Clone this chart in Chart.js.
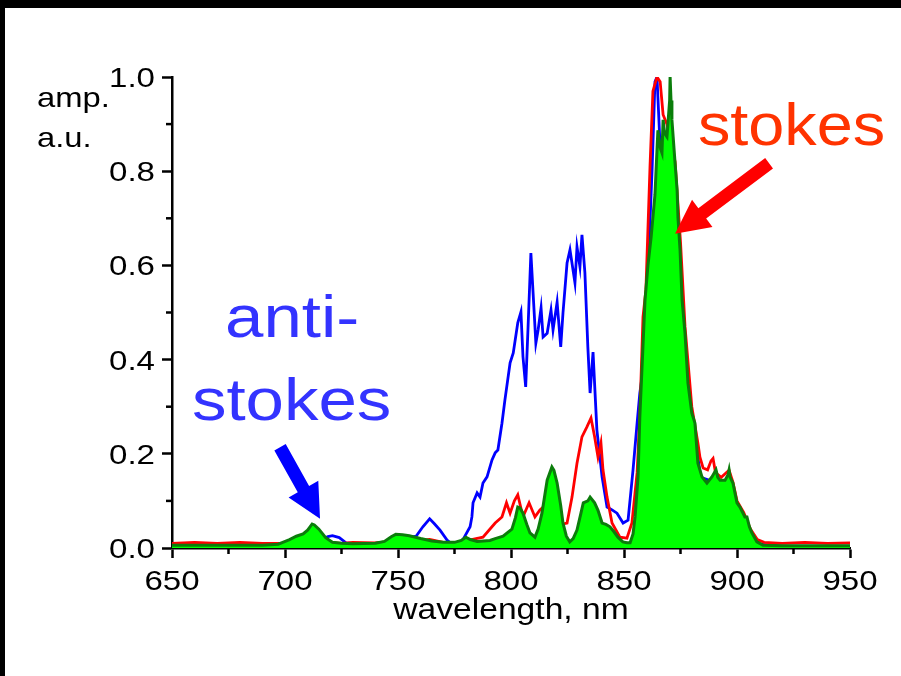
<!DOCTYPE html>
<html><head><meta charset="utf-8">
<script src="https://cdn.jsdelivr.net/npm/chart.js@4.4.1/dist/chart.umd.min.js"></script>
<style>
html,body{margin:0;padding:0;background:#000;width:901px;height:676px;overflow:hidden}
#wrap{position:absolute;left:5px;top:8px;width:896px;height:668px;background:#fff}
</style></head><body>
<div id="wrap"><canvas id="c"></canvas></div>
<script>
// ---- data (wavelength nm, amplitude a.u.) ----
const blueWl = [650,670,690,700,705,710,714,717,719,721,724,727,735,745,750,755,758,761,764,766,768.6,771.7,774,777,779,
 781.9,782.7,783.2,785,786.3,787.6,789.4,791.6,793,794.2,796,797.3,799.6,801,803,804.4,805.3,806.5,807.5,808.8,809.7,811,812,813.3,814.2,816,817.7,818.6,820.4,822,823,824.8,826.1,828.3,829.2,830.5,831.4,832.7,834,835,836.3,838,840.3,842.5,844.7,846.9,849.6,851.8,854,855.8,857,858,860,861,862.4,863.7,864.6,865,866,868,870,873,876,880,884,890,896,900,905,910,920,950];
const blueAmp = [0.004,0.004,0.004,0.006,0.01,0.02,0.025,0.02,0.024,0.026,0.022,0.011,0.008,0.012,0.02,0.022,0.025,0.045,0.062,0.052,0.038,0.017,0.008,0.008,0.02,
 0.045,0.066,0.096,0.117,0.108,0.138,0.151,0.187,0.202,0.208,0.265,0.314,0.393,0.414,0.478,0.501,0.406,0.342,0.463,0.626,0.548,0.435,0.463,0.510,0.448,0.456,0.505,0.463,0.522,0.427,0.499,0.605,0.633,0.563,0.639,0.597,0.665,0.584,0.427,0.329,0.416,0.251,0.151,0.087,0.081,0.074,0.053,0.059,0.166,0.265,0.329,0.363,0.512,0.633,0.80,0.99,1.0,0.957,0.85,0.8,0.8,0.65,0.5,0.28,0.15,0.14,0.14,0.09,0.04,0.008,0.004,0.004];

const redWl = [650,660,670,680,690,700,710,720,725,730,740,750,760,764,768,772,776,780,782,787.6,793,796,798,799.6,801.5,803,805.3,808,810.6,812.8,815,818,822,824.8,827,829.2,831.4,833.6,835.4,837,838.5,839.8,840.7,842.5,844.7,848.2,851.3,853.5,855.8,857,858.4,859.7,861.5,862.8,864.6,866,867.3,869,872.6,875,877,880,882.7,883.6,885,887,888.5,889.4,890.5,893,896.5,898.2,900,903,906,909,912,920,930,940,950];
const redAmp = [0.01,0.012,0.01,0.012,0.01,0.01,0.01,0.012,0.01,0.012,0.011,0.015,0.016,0.018,0.014,0.01,0.012,0.015,0.017,0.023,0.053,0.066,0.096,0.074,0.1,0.113,0.066,0.096,0.066,0.081,0.09,0.1,0.05,0.053,0.108,0.18,0.236,0.257,0.276,0.236,0.193,0.223,0.166,0.108,0.053,0.023,0.021,0.053,0.16,0.28,0.49,0.548,0.809,0.97,1.0,0.99,0.92,0.90,0.82,0.65,0.47,0.3,0.223,0.193,0.17,0.166,0.185,0.19,0.16,0.15,0.165,0.14,0.1,0.075,0.04,0.018,0.012,0.01,0.012,0.01,0.011];

const greenWl = [650,670,690,697,699,702,705,708,710,712,713,715,718,721,725,730,740,744,747,749,752,755,760,765,770,775,778,780,782,785,790.7,793,796.5,800.4,802,803,804,805.3,807,808.4,810.6,812,813.7,816,818.1,819,820.4,822,823,824.5,826,827.5,829.2,831,832,834,835,837,838.5,840.3,842,843.8,845.5,847.3,849.5,851.3,852.7,854,854.9,856.2,857,859.3,860.6,862,863.7,865,866,866.8,867.3,868,869,870.2,870.4,870.8,871.2,872.6,873.5,873.9,874.8,875.7,877,878.3,880,881.4,882.7,884.5,886.7,888.9,890.7,891.5,892.5,894.7,896,896.5,897,898.2,900,901.3,903.5,904.4,905.5,906.6,908.8,911.5,920,930,950];
const greenAmp = [0.006,0.006,0.006,0.008,0.012,0.018,0.025,0.03,0.038,0.051,0.049,0.04,0.022,0.012,0.01,0.009,0.01,0.014,0.024,0.029,0.028,0.026,0.02,0.015,0.012,0.012,0.016,0.023,0.018,0.014,0.016,0.02,0.025,0.04,0.065,0.087,0.085,0.074,0.05,0.032,0.023,0.04,0.074,0.144,0.172,0.165,0.138,0.09,0.053,0.025,0.013,0.02,0.038,0.075,0.096,0.1,0.108,0.096,0.08,0.053,0.05,0.045,0.035,0.023,0.013,0.011,0.011,0.03,0.066,0.15,0.278,0.527,0.60,0.66,0.75,0.887,0.85,0.839,0.909,0.88,0.873,0.95,1.0,0.95,0.909,0.817,0.76,0.70,0.633,0.527,0.456,0.35,0.287,0.265,0.18,0.151,0.138,0.151,0.166,0.15,0.144,0.144,0.155,0.166,0.15,0.138,0.096,0.087,0.066,0.066,0.045,0.032,0.013,0.006,0.005,0.005,0.005];

const xTickValues = [650,700,750,800,850,900,950];
const yTickValues = [0.0,0.2,0.4,0.6,0.8,1.0];
const xTickLabels = ['650','700','750','800','850','900','950'];
const yTickLabels = ['0.0','0.2','0.4','0.6','0.8','1.0'];
const xMinorTicks = [675,725,775,825,875,925];
const yMinorTicks = [0.1,0.3,0.5,0.7,0.9];
const xTitle = 'wavelength, nm';
const yTitleLines = ['amp.','a.u.'];

// annotations anchored in data units
const labels = [
  {text:'anti-',  wl:673.5, amp:0.448, color:'#3333ff', size:60, sx:1.15},
  {text:'stokes', wl:658.8, amp:0.272, color:'#3333ff', size:60, sx:1.15},
  {text:'stokes', wl:882.7, amp:0.856, color:'#ff3300', size:60, sx:1.08}
];
const arrows = [
  {fromWl:697.8, fromAmp:0.214, toWl:715.5, toAmp:0.062, color:'#0000ff'},
  {fromWl:914.2, fromAmp:0.817, toWl:872.6, toAmp:0.667, color:'#ff0000'}
];

const pts = (xs, ys) => xs.map((x,i)=>({x, y: ys[i]}));
const FONT = "'Liberation Sans', Arial, sans-serif";

function stretchText(ctx, text, x, y, sx, align){
  const w = ctx.measureText(text).width * sx;
  let x0 = x;
  if (align === 'center') x0 = x - w/2; else if (align === 'right') x0 = x - w;
  ctx.save(); ctx.translate(x0, y); ctx.scale(sx,1); ctx.textAlign = 'left'; ctx.fillText(text,0,0); ctx.restore();
}

const decor = {
  id:'decor',
  afterDraw(chart){
    const ctx = chart.ctx, xs = chart.scales.x, ys = chart.scales.y;
    const ca = chart.chartArea;
    ctx.save();
    // minor ticks
    ctx.strokeStyle = '#000'; ctx.lineWidth = 2.5;
    xMinorTicks.forEach(v=>{ const px = xs.getPixelForValue(v); ctx.beginPath(); ctx.moveTo(px, ca.bottom); ctx.lineTo(px, ca.bottom+6); ctx.stroke(); });
    yMinorTicks.forEach(v=>{ const py = ys.getPixelForValue(v); ctx.beginPath(); ctx.moveTo(ca.left, py); ctx.lineTo(ca.left-6, py); ctx.stroke(); });
    // tick labels
    ctx.fillStyle = '#000'; ctx.textBaseline = 'alphabetic';
    ctx.font = `28px ${FONT}`;
    xs.ticks.forEach((t,i)=>{ stretchText(ctx, xTickLabels[xTickValues.indexOf(t.value)], xs.getPixelForValue(t.value), ca.bottom+42, 1.18, 'center'); });
    ys.ticks.forEach((t,i)=>{ stretchText(ctx, yTickLabels[yTickValues.indexOf(t.value)], ca.left-17, ys.getPixelForValue(t.value)+10, 1.18, 'right'); });
    // axis title
    ctx.font = `30px ${FONT}`;
    stretchText(ctx, xTitle, (ca.left+ca.right)/2, ca.bottom+71, 1.12, 'center');
    // y title
    ctx.font = `28px ${FONT}`;
    const ly = [0.936, 0.851];
    yTitleLines.forEach((t,i)=>{ stretchText(ctx, t, ca.left - 135, ys.getPixelForValue(ly[i]), 1.17, 'left'); });
    // arrows
    arrows.forEach(a=>{
      const x0 = xs.getPixelForValue(a.fromWl), y0 = ys.getPixelForValue(a.fromAmp);
      const x1 = xs.getPixelForValue(a.toWl), y1 = ys.getPixelForValue(a.toAmp);
      const dx = x1-x0, dy = y1-y0, L = Math.hypot(dx,dy);
      const ux = dx/L, uy = dy/L, nx = -uy, ny = ux;
      const hl = 34, hw = 17, sw = 6.5;
      const bx = x1 - ux*hl, by = y1 - uy*hl;
      ctx.fillStyle = a.color;
      ctx.beginPath();
      ctx.moveTo(x0+nx*sw, y0+ny*sw);
      ctx.lineTo(bx+nx*sw, by+ny*sw);
      ctx.lineTo(bx+nx*hw, by+ny*hw);
      ctx.lineTo(x1, y1);
      ctx.lineTo(bx-nx*hw, by-ny*hw);
      ctx.lineTo(bx-nx*sw, by-ny*sw);
      ctx.lineTo(x0-nx*sw, y0-ny*sw);
      ctx.closePath(); ctx.fill();
    });
    // labels
    labels.forEach(l=>{
      ctx.fillStyle = l.color; ctx.font = `${l.size}px ${FONT}`;
      stretchText(ctx, l.text, xs.getPixelForValue(l.wl), ys.getPixelForValue(l.amp), l.sx, 'left');
    });
    ctx.restore();
  }
};

new Chart(document.getElementById('c'), {
  type:'line',
  data:{ datasets:[
    {label:'green', data:pts(greenWl,greenAmp), borderColor:'#0b7d0b', backgroundColor:'#00ff00', fill:'origin', borderWidth:3, pointRadius:0, tension:0},
    {label:'red', data:pts(redWl,redAmp), borderColor:'#ff0000', borderWidth:2.8, pointRadius:0, fill:false, tension:0},
    {label:'blue', data:pts(blueWl,blueAmp), borderColor:'#0000ff', borderWidth:2.8, pointRadius:0, fill:false, tension:0}
  ]},
  options:{
    responsive:true, maintainAspectRatio:false, animation:false,
    layout:{padding:{left:0, top:69, right:51, bottom:48}},
    plugins:{legend:{display:false}, tooltip:{enabled:false}},
    scales:{
      x:{type:'linear', min:650, max:950,
        afterBuildTicks: s => { s.ticks = xTickValues.map(v=>({value:v})); },
        afterFit: s => { s.height = 80; },
        ticks:{display:false},
        grid:{drawOnChartArea:false, drawTicks:true, tickLength:10, tickWidth:2.5, tickColor:'#000', color:'#000'},
        border:{display:true, color:'#000', width:2.5}
      },
      y:{type:'linear', min:0, max:1,
        afterBuildTicks: s => { s.ticks = yTickValues.map(v=>({value:v})); },
        afterFit: s => { s.width = 167; },
        ticks:{display:false},
        grid:{drawOnChartArea:false, drawTicks:true, tickLength:10, tickWidth:2.5, tickColor:'#000', color:'#000'},
        border:{display:true, color:'#000', width:2.5}
      }
    }
  },
  plugins:[decor]
});
</script></body></html>
